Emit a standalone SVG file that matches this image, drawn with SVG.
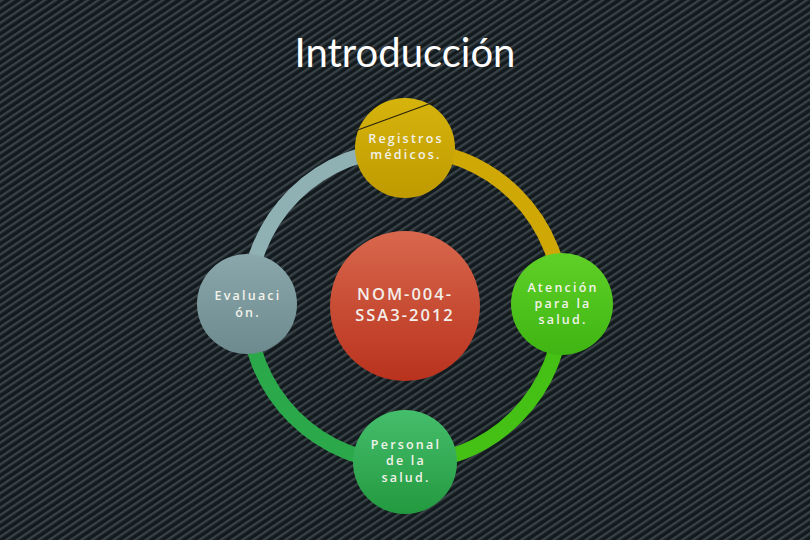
<svg xmlns="http://www.w3.org/2000/svg" width="810" height="540" viewBox="0 0 810 540">
<defs>
<pattern id="stripes" width="6" height="6" patternUnits="userSpaceOnUse" patternTransform="rotate(-34)">
<rect width="6" height="6" fill="#121a1d"/>
<rect width="6" height="2.4" fill="#384247"/>
</pattern>
<linearGradient id="gTop" x1="0" y1="0" x2="0" y2="1"><stop offset="0" stop-color="#d6b40c"/><stop offset="1" stop-color="#bf9a00"/></linearGradient>
<linearGradient id="gLeft" x1="0" y1="0" x2="0" y2="1"><stop offset="0" stop-color="#8aa8ac"/><stop offset="1" stop-color="#6d8a8e"/></linearGradient>
<linearGradient id="gRight" x1="0" y1="0" x2="0" y2="1"><stop offset="0" stop-color="#5fd027"/><stop offset="1" stop-color="#3fb513"/></linearGradient>
<linearGradient id="gBottom" x1="0" y1="0" x2="0" y2="1"><stop offset="0" stop-color="#45be6c"/><stop offset="1" stop-color="#23993f"/></linearGradient>
<linearGradient id="gCenter" x1="0" y1="0" x2="0" y2="1"><stop offset="0" stop-color="#d8684d"/><stop offset="1" stop-color="#b9321d"/></linearGradient>
</defs>
<style>
.lbl{font-family:"Open Sans","Liberation Sans",sans-serif;font-size:12.5px;font-weight:600;fill:#f2f2ea;text-anchor:middle;letter-spacing:2.2px}
.big{font-family:"Open Sans","Liberation Sans",sans-serif;font-size:16.5px;font-weight:600;fill:#f2eeea;text-anchor:middle;letter-spacing:2px}
.arc{fill:none;stroke-width:15}
</style>
<rect width="810" height="540" fill="url(#stripes)"/>
<text x="405" y="67" font-family="Lato,'Open Sans','Liberation Sans',sans-serif" font-size="40" fill="#ffffff" text-anchor="middle">Introducción</text>
<g id="connectors">
<path class="arc" stroke="#8fb1b4" d="M248 306 A157 157 0 0 1 405 149"/>
<path class="arc" stroke="#cfa806" d="M405 149 A157 157 0 0 1 562 306"/>
<path class="arc" stroke="#45c015" d="M562 306 A157 157 0 0 1 405 463"/>
<path class="arc" stroke="#2ba84a" d="M405 463 A157 157 0 0 1 248 306"/>
</g>
<g id="center">
<circle cx="405" cy="306" r="75" fill="url(#gCenter)"/>
<text class="big" x="405" y="300">NOM-004-</text>
<text class="big" x="405" y="321">SSA3-2012</text>
</g>
<g id="top">
<circle cx="405" cy="148" r="50" fill="url(#gTop)"/>
<line x1="355" y1="131" x2="437" y2="101" stroke="#2a2410" stroke-width="1.3"/>
<text class="lbl" x="406" y="143">Registros</text>
<text class="lbl" x="406" y="159">médicos.</text>
</g>
<g id="left">
<circle cx="247" cy="304" r="50" fill="url(#gLeft)"/>
<text class="lbl" x="248" y="300">Evaluaci</text>
<text class="lbl" x="248" y="317">ón.</text>
</g>
<g id="right">
<circle cx="562" cy="304" r="51" fill="url(#gRight)"/>
<text class="lbl" x="563" y="292">Atención</text>
<text class="lbl" x="563" y="308">para la</text>
<text class="lbl" x="563" y="324">salud.</text>
</g>
<g id="bottom">
<circle cx="405" cy="462" r="52" fill="url(#gBottom)"/>
<text class="lbl" x="406" y="449">Personal</text>
<text class="lbl" x="406" y="465">de la</text>
<text class="lbl" x="406" y="482">salud.</text>
</g>
</svg>
